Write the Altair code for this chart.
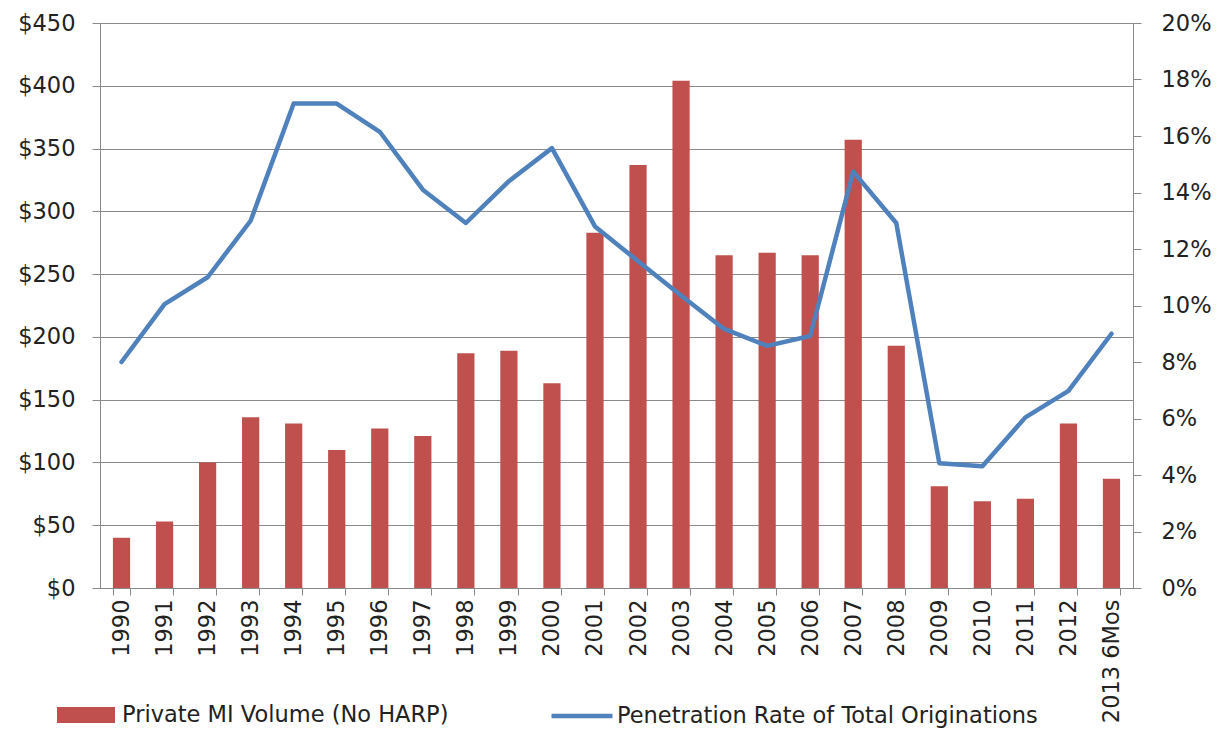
import altair as alt
import pandas as pd

years = ["1990", "1991", "1992", "1993", "1994", "1995", "1996", "1997", "1998", "1999",
         "2000", "2001", "2002", "2003", "2004", "2005", "2006", "2007", "2008", "2009",
         "2010", "2011", "2012", "2013 6Mos"]
volume = [40, 53, 100, 136, 131, 110, 127, 121, 187, 189,
          163, 283, 337, 404, 265, 267, 265, 357, 193, 81,
          69, 71, 131, 87]
rate = [8.0, 10.05, 11.0, 13.0, 17.15, 17.15, 16.15, 14.1, 12.92, 14.4,
        15.57, 12.8, 11.57, 10.35, 9.17, 8.57, 8.92, 14.74, 12.92, 4.42,
        4.31, 6.04, 6.98, 9.0]
bar_name = "Private MI Volume (No HARP)"
line_name = "Penetration Rate of Total Originations"
vol_ticks = list(range(0, 451, 50))
rate_ticks = list(range(0, 21, 2))

df = pd.DataFrame({"year": years, "volume": volume, "rate": rate})

FONT = "DejaVu Sans"
FS = 22.5
TXT = "#222222"
GRID = "#8a8a8a"

x = alt.X("year:N", sort=years, title=None,
          scale=alt.Scale(paddingInner=0.6, paddingOuter=0.3),
          axis=alt.Axis(labelAngle=-90, tickBand="extent", tickSize=7,
                        labelPadding=4, domainColor=GRID, tickColor=GRID,
                        labelFont=FONT, labelFontSize=FS, labelColor=TXT))

bars = alt.Chart(df).transform_calculate(series=f"'{bar_name}'").mark_bar().encode(
    x=x,
    y=alt.Y("volume:Q", title=None,
            scale=alt.Scale(domain=[0, 450], nice=False),
            axis=alt.Axis(values=vol_ticks, format="$.0f", orient="left",
                          tickSize=8, labelPadding=17, grid=True,
                          gridColor=GRID, gridWidth=1, domainColor=GRID,
                          tickColor=GRID, labelFont=FONT, labelFontSize=FS,
                          labelColor=TXT)),
    color=alt.Color("series:N",
                    scale=alt.Scale(domain=[bar_name], range=["#C0504D"]),
                    legend=alt.Legend(orient="none", legendX=-43, legendY=663,
                                      title=None, symbolType="M-1,-0.276L1,-0.276L1,0.276L-1,0.276Z",
                                      symbolSize=3364, symbolStrokeWidth=0,
                                      symbolOpacity=1, labelOffset=7, padding=0,
                                      labelFont=FONT, labelFontSize=FS,
                                      labelColor=TXT, labelLimit=0)),
)

line = alt.Chart(df).transform_calculate(series=f"'{line_name}'").mark_line(
    strokeWidth=4.5, strokeJoin="round", strokeCap="round"
).encode(
    x=x,
    y=alt.Y("rate:Q", title=None,
            scale=alt.Scale(domain=[0, 20], nice=False),
            axis=alt.Axis(values=rate_ticks, labelExpr="datum.value + '%'",
                          orient="right", tickSize=8, labelPadding=20,
                          grid=False, domainColor=GRID, tickColor=GRID,
                          labelFont=FONT, labelFontSize=FS, labelColor=TXT)),
    stroke=alt.Stroke("series:N",
                      scale=alt.Scale(domain=[line_name], range=["#4F81BD"]),
                      legend=alt.Legend(orient="none", legendX=449, legendY=660,
                                        title=None, symbolType="stroke",
                                        symbolSize=3721, symbolStrokeWidth=4.5,
                                        labelOffset=2, padding=0,
                                        labelFont=FONT, labelFontSize=FS,
                                        labelColor=TXT, labelLimit=0)),
)

chart = alt.layer(bars, line).resolve_scale(
    y="independent", color="independent", stroke="independent"
).properties(
    width=1033, height=565,
    autosize=alt.AutoSizeParams(type="none"),
    padding={"left": 92, "top": 15, "right": 80, "bottom": 148},
).configure_view(stroke=None).configure(background="white")

chart.save("out.html", embed_options={"renderer": "svg", "actions": False})
